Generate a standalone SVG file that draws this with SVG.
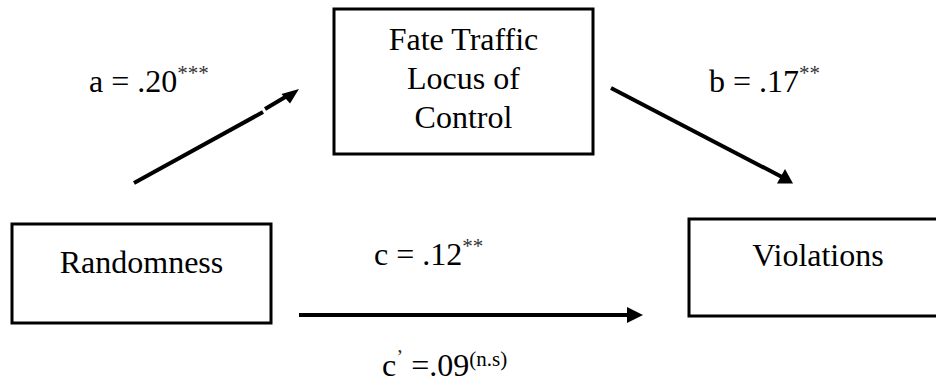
<svg xmlns="http://www.w3.org/2000/svg" width="936" height="387" viewBox="0 0 936 387">
<style>
.box{fill:#fff;stroke:#000;stroke-width:3}
.t{font-family:'Liberation Serif',Tinos,'Times New Roman','DejaVu Serif',serif;font-size:32px;fill:#000}
.sup{font-size:21px;fill:#333}
.ln{stroke:#000;stroke-width:4;fill:none}
.hd{fill:#000}
</style>
<rect width="936" height="387" fill="#fff"/>
<g id="node-fate">
<rect class="box" x="334" y="9" width="259" height="145"/>
<text class="t" x="463.5" y="50" text-anchor="middle">Fate Traffic</text>
<text class="t" x="463.5" y="89" text-anchor="middle">Locus of</text>
<text class="t" x="463.5" y="128" text-anchor="middle">Control</text>
</g>
<g id="node-randomness">
<rect class="box" x="12" y="224" width="259" height="99"/>
<text class="t" x="141.5" y="273" text-anchor="middle">Randomness</text>
</g>
<g id="node-violations">
<rect class="box" x="689" y="219" width="260" height="97"/>
<text class="t" x="818" y="266" text-anchor="middle">Violations</text>
</g>
<g id="connectors">
<line class="ln" x1="134" y1="183" x2="263" y2="112"/>
<line class="ln" x1="265" y1="109" x2="287" y2="96"/>
<polygon class="hd" points="299,89 281.5,94 290,103.5"/>
<line class="ln" x1="611" y1="88" x2="782" y2="177"/>
<polygon class="hd" points="793,183.5 777,183.5 785,169"/>
<line class="ln" x1="299" y1="315" x2="629" y2="315"/>
<polygon class="hd" points="643,315 627,307 627,323"/>
</g>
<g id="labels">
<text class="t" x="89" y="92">a = .20<tspan class="sup" dy="-12">***</tspan></text>
<text class="t" x="709" y="92">b = .17<tspan class="sup" dy="-12">**</tspan></text>
<text class="t" x="374" y="265">c = .12<tspan class="sup" dy="-12">**</tspan></text>
<text class="t" x="382" y="376">c<tspan class="sup" dy="-12">’</tspan><tspan dy="12"> =.09</tspan><tspan style="font-size:21px" dy="-10">(n.s)</tspan></text>
</g>
</svg>
